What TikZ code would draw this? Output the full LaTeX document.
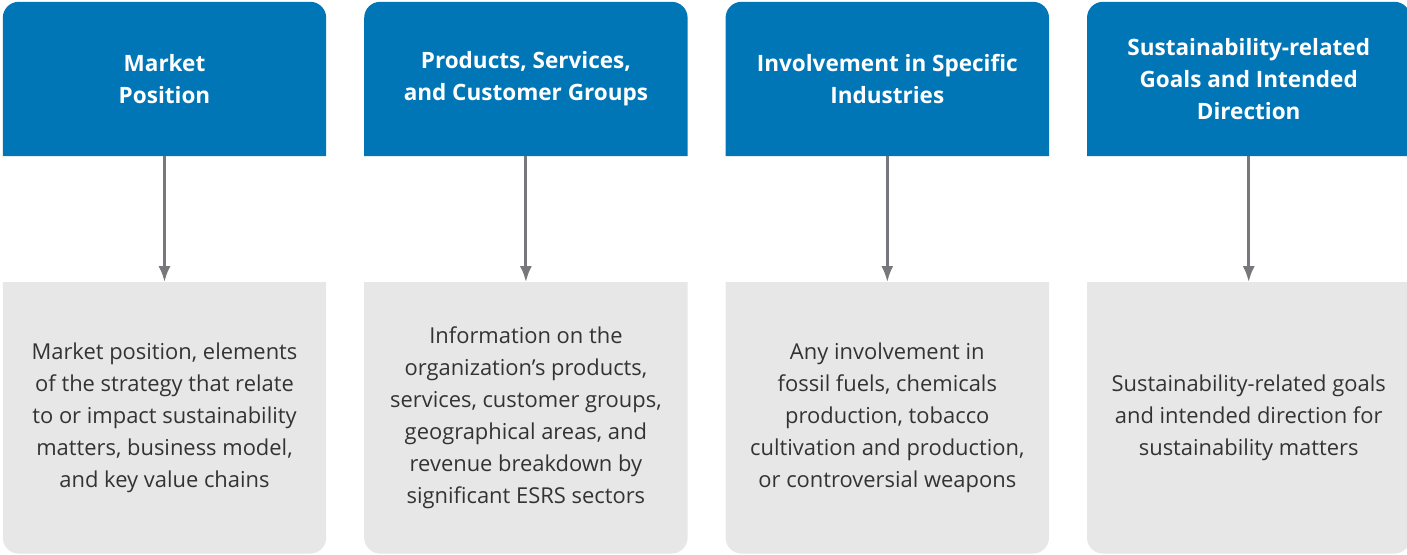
\documentclass[tikz,border=0pt]{standalone}
\usepackage{fontspec}
\setmainfont{Open Sans}
\usetikzlibrary{positioning,arrows.meta,backgrounds}
\definecolor{headblue}{RGB}{0,118,182}
\definecolor{bodygray}{RGB}{231,231,231}
\definecolor{linegray}{RGB}{120,120,124}
\definecolor{textgray}{RGB}{51,51,51}
\tikzset{>={Latex[length=16bp,width=12bp]}}
\tikzstyle{headbox}=[minimum width=323bp, minimum height=154bp, inner sep=0pt, align=center, text=white, font=\fontsize{22.6}{32}\selectfont\bfseries]
\tikzstyle{bodybox}=[minimum width=323bp, minimum height=271bp, inner sep=0pt, align=center, text=textgray, font=\fontsize{22}{32}\selectfont]
\tikzstyle{flow}=[->, linegray, line width=3bp]

\begin{document}
\begin{tikzpicture}[x=1bp, y=1bp]
    \useasboundingbox (0,0) rectangle (1407,-555);
    % Headers
    \node[headbox] (h1) at (164.5,-79) {Market\\Position};
    \node[headbox, right=38bp of h1] (h2) {Products, Services,\\and Customer Groups};
    \node[headbox, right=38bp of h2] (h3) {Involvement in Specific\\Industries};
    \node[headbox, right=38bp of h3] (h4) {Sustainability-related\\Goals and Intended\\Direction};

    % Descriptions
    \node[bodybox, below=126bp of h1] (b1) {Market position, elements\\of the strategy that relate\\to or impact sustainability\\matters, business model,\\and key value chains};
    \node[bodybox, below=126bp of h2] (b2) {Information on the\\organization's products,\\services, customer groups,\\geographical areas, and\\revenue breakdown by\\significant ESRS sectors};
    \node[bodybox, below=126bp of h3] (b3) {Any involvement in\\fossil fuels, chemicals\\production, tobacco\\cultivation and production,\\or controversial weapons};
    \node[bodybox, below=126bp of h4] (b4) {Sustainability-related goals\\and intended direction for\\sustainability matters};

    % Boxes behind the text, two corners rounded each
    \begin{scope}[on background layer]
    \foreach \i in {1,...,4}{
        \fill[headblue] (h\i.south west) -- ([yshift=-16bp]h\i.north west)
            arc[start angle=180, end angle=90, radius=16bp] -- ([xshift=-16bp]h\i.north east)
            arc[start angle=90, end angle=0, radius=16bp] -- (h\i.south east) -- cycle;
        \fill[bodygray] (b\i.north west) -- ([yshift=16bp]b\i.south west)
            arc[start angle=180, end angle=270, radius=16bp] -- ([xshift=-16bp]b\i.south east)
            arc[start angle=270, end angle=360, radius=16bp] -- (b\i.north east) -- cycle;
    }
    \end{scope}

    % Arrows
    \foreach \i in {1,...,4}
        \draw[flow] (h\i.south) -- (b\i.north);
\end{tikzpicture}
\end{document}
